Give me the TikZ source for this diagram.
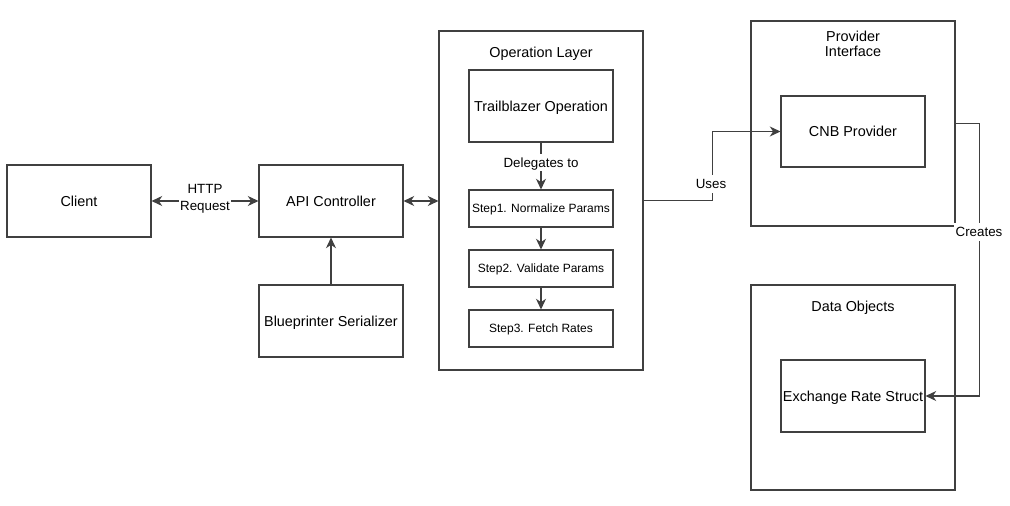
\documentclass[tikz,border=0pt]{standalone}
\usepackage{fontspec}
\setmainfont{Liberation Sans}
\usetikzlibrary{arrows.meta}
\begin{document}
\begin{tikzpicture}[x=0.75pt,y=-0.75pt,
  box/.style={draw=black!75, line width=0.8pt, minimum width=108pt, minimum height=54pt, inner sep=0pt, font=\fontsize{10.8}{13}\selectfont, text height=10pt, text depth=2pt},
  stepbox/.style={box, minimum height=27.75pt, font=\fontsize{9}{11}\selectfont, text height=8.5pt, text depth=1.8pt},
  group/.style={draw=black!75, line width=0.8pt, minimum width=153pt, minimum height=153.75pt, inner sep=0pt},
  ttl/.style={font=\fontsize{10.8}{11.5}\selectfont, inner sep=0pt, text height=10pt, text depth=2pt},
  ttl2/.style={font=\fontsize{10.8}{11.5}\selectfont, align=center, inner sep=0pt},
  lbl/.style={font=\fontsize{10}{11.5}\selectfont, fill=white, inner sep=1pt, text height=9.2pt, text depth=1.8pt},
  lbl2/.style={font=\fontsize{10}{12.5}\selectfont, align=center, fill=white, inner sep=1pt},
  tip/.tip={Stealth[length=8pt,width=7.5pt,inset=2.5pt]},
  conn/.style={draw=black!75, line width=0.85pt, -tip},
  bconn/.style={conn, tip-tip}]
\useasboundingbox (0,0) rectangle (1010,506);
\fill[white] (0,0) rectangle (1010,506);
% groups
\node[group, minimum height=254.25pt] (op) at (541,200.5) {};
\node[ttl] (opt) at (541,52) {Operation Layer};
\node[group] (pi) at (853,123.5) {};
\node[ttl2] (pit) at (853,44) {Provider\\Interface};
\node[group] (do) at (853,387.5) {};
\node[ttl] (dot) at (853,306) {Data Objects};
% boxes
\node[box] (client) at (79,201) {Client};
\node[box] (api) at (331,201) {API Controller};
\node[box] (bp) at (331,321) {Blueprinter Serializer};
\node[box] (tb) at (541,106) {Trailblazer Operation};
\node[stepbox] (s1) at (541,208.5) {Step1. Normalize Params};
\node[stepbox] (s2) at (541,268.5) {Step2. Validate Params};
\node[stepbox] (s3) at (541,328.5) {Step3. Fetch Rates};
\node[box, minimum height=53.25pt] (cnb) at (853,131.5) {CNB Provider};
\node[box] (ex) at (853,396) {Exchange Rate Struct};
% connectors
\draw[bconn] (client) -- node[lbl2, yshift=1.8pt] (http) {HTTP\\Request} (api);
\draw[bconn] (api.east) -- (api.east -| op.west);
\draw[conn] (bp) -- (api);
\draw[conn] (tb) -- node[lbl, pos=0.42] (del) {Delegates to} (s1);
\draw[conn] (s1) -- (s2);
\draw[conn] (s2) -- (s3);
\draw[conn] (op.east) -- ++(69,0) |- (cnb.west);
\node[lbl] (uses) at (711,184) {Uses};
\draw[conn] (pi.east) -- ++(24,0) |- (ex.east);
\node[lbl] (cr) at (979,232) {Creates};
\end{tikzpicture}
\end{document}
